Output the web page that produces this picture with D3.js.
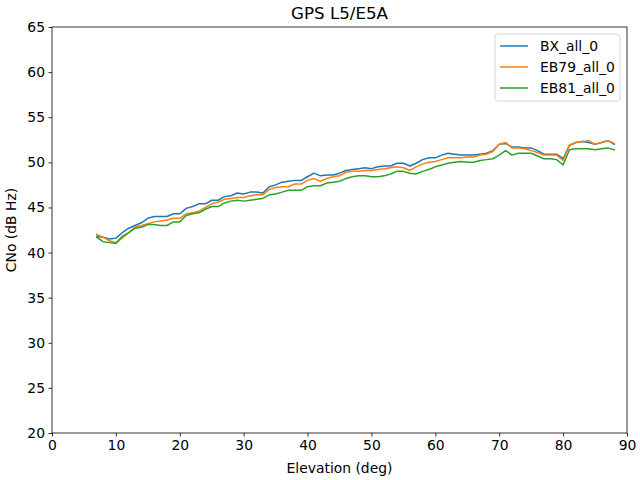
<!DOCTYPE html>
<html><head><meta charset="utf-8">
<script src="https://cdn.jsdelivr.net/npm/d3@7"></script>
<style>body{margin:0;background:#fff}svg{display:block}text{font-family:"DejaVu Sans",sans-serif}</style>
</head><body>
<svg id="c" width="640" height="480"></svg>
<script>
const elevation = d3.range(7, 89);
const bx = [41.8,41.7,41.5,41.6,42.2,42.7,43.0,43.3,43.8,44.0,44.0,44.0,44.3,44.3,44.9,45.1,45.4,45.4,45.8,45.8,46.2,46.3,46.6,46.5,46.7,46.7,46.6,47.3,47.5,47.8,47.9,48.0,48.0,48.4,48.8,48.5,48.6,48.6,48.8,49.1,49.2,49.3,49.4,49.3,49.5,49.6,49.6,49.9,49.9,49.6,49.9,50.3,50.5,50.5,50.8,51.0,50.9,50.8,50.8,50.8,50.9,51.0,51.3,52.0,52.1,51.7,51.7,51.6,51.6,51.3,50.9,50.9,50.9,50.4,51.9,52.2,52.3,52.2,52.0,52.2,52.4,52.0];
const eb79 = [42.0,41.7,41.3,41.1,41.6,42.2,42.8,43.0,43.2,43.4,43.5,43.6,43.8,43.8,44.3,44.4,44.6,45.0,45.4,45.6,45.9,46.0,46.1,46.1,46.3,46.4,46.4,47.0,47.2,47.3,47.3,47.6,47.6,48.0,48.2,47.9,48.2,48.4,48.5,48.9,49.0,49.0,49.1,49.1,49.2,49.3,49.4,49.5,49.4,49.1,49.5,49.8,50.0,50.1,50.3,50.5,50.5,50.5,50.6,50.6,50.8,50.9,51.2,52.0,52.2,51.6,51.6,51.5,51.3,51.1,50.8,50.8,50.8,50.2,51.9,52.2,52.3,52.4,52.0,52.2,52.4,52.1];
const eb81 = [41.7,41.2,41.1,41.0,41.8,42.2,42.7,42.8,43.1,43.1,43.0,43.0,43.4,43.4,44.1,44.3,44.4,44.8,45.1,45.1,45.5,45.7,45.8,45.7,45.8,45.9,46.0,46.4,46.5,46.7,46.9,46.9,46.9,47.3,47.4,47.4,47.7,47.8,47.9,48.2,48.4,48.5,48.5,48.4,48.4,48.5,48.7,49.0,49.0,48.8,48.7,49.0,49.2,49.5,49.7,49.9,50.0,50.1,50.0,50.0,50.2,50.3,50.4,50.8,51.3,50.8,51.0,51.0,51.0,50.7,50.4,50.4,50.3,49.7,51.4,51.5,51.5,51.5,51.4,51.5,51.6,51.4];
const seriesNames = ["BX_all_0","EB79_all_0","EB81_all_0"];
const seriesColors = ["#1f77b4","#ff7f0e","#2ca02c"];
const xTicks = [0,10,20,30,40,50,60,70,80,90];
const yTicks = [20,25,30,35,40,45,50,55,60,65];
const title = "GPS L5/E5A", xLabel = "Elevation (deg)", yLabel = "CNo (dB Hz)";

const svg = d3.select("#c");
const L=52, R=627, T=27, B=433;
const x = d3.scaleLinear().domain([0,90]).range([L,R]);
const y = d3.scaleLinear().domain([20,65]).range([B,T]);

const xa = svg.append("g").attr("transform",`translate(0,${B})`).call(d3.axisBottom(x).tickValues(xTicks).tickSize(3.5).tickPadding(3.5));
const ya = svg.append("g").attr("transform",`translate(${L},0)`).call(d3.axisLeft(y).tickValues(yTicks).tickSize(3.5).tickPadding(3.5));
[xa,ya].forEach(a=>{a.select(".domain").remove();a.selectAll("text").attr("font-size","13.9px").attr("fill","#000").style("font-family","DejaVu Sans");a.selectAll("line").attr("stroke","#000").attr("stroke-width",0.8);});

const data = [bx,eb79,eb81];
const line = d3.line().x((d,i)=>x(elevation[i])).y(d=>y(d));
data.forEach((s,k)=>{
  svg.append("path").datum(s).attr("d",line).attr("fill","none").attr("stroke",seriesColors[k]).attr("stroke-width",1.5).attr("stroke-linejoin","round").attr("stroke-linecap","square");
});
svg.append("rect").attr("x",L).attr("y",T).attr("width",R-L).attr("height",B-T).attr("fill","none").attr("stroke","#000").attr("stroke-width",0.8);

svg.append("text").attr("x",(L+R)/2).attr("y",19).attr("text-anchor","middle").attr("font-size","16.7px").text(title);
svg.append("text").attr("x",(L+R)/2).attr("y",473).attr("text-anchor","middle").attr("font-size","13.9px").text(xLabel);
svg.append("text").attr("transform",`translate(16,${(T+B)/2}) rotate(-90)`).attr("text-anchor","middle").attr("font-size","13.9px").text(yLabel);

// legend
const lg = svg.append("g");
lg.append("rect").attr("x",495).attr("y",34).attr("width",125).attr("height",67).attr("rx",3).attr("fill","#fff").attr("fill-opacity",0.8).attr("stroke","#ccc").attr("stroke-width",0.8);
seriesNames.forEach((n,k)=>{
  const yy = 46 + k*21;
  lg.append("line").attr("x1",500).attr("x2",528).attr("y1",yy).attr("y2",yy).attr("stroke",seriesColors[k]).attr("stroke-width",1.5);
  lg.append("text").attr("x",540).attr("y",yy+5).attr("font-size","13.9px").text(n);
});
</script>
</body></html>
